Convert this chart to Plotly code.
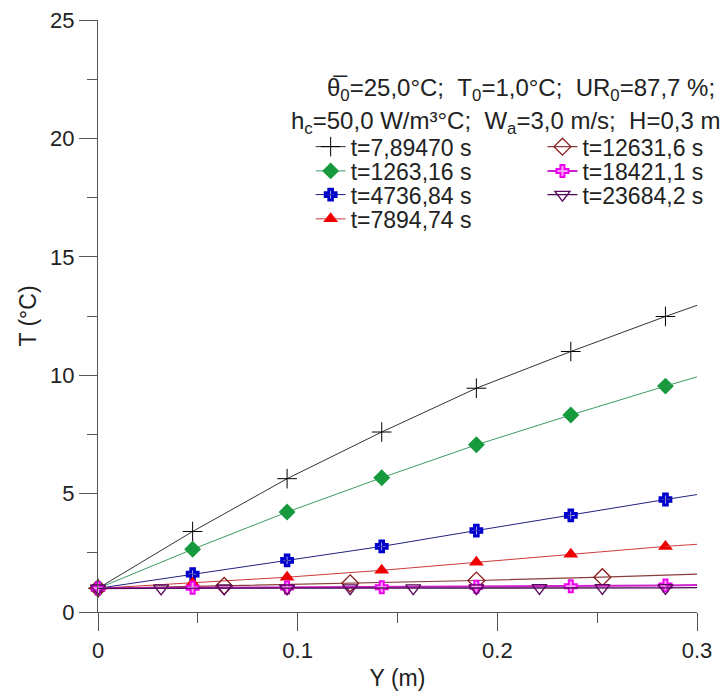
import plotly.graph_objects as go

# ---- data ----
Y_every3 = [0.0, 0.0474, 0.0947, 0.1421, 0.1895, 0.2368, 0.2842]
Y_every4 = [0.0, 0.0632, 0.1263, 0.1895, 0.2526]
Y_every2 = [0.0, 0.0316, 0.0632, 0.0947, 0.1263, 0.1579, 0.1895, 0.2211, 0.2526, 0.2842]
Y_end = 0.3

names = ["t=7,89470 s", "t=1263,16 s", "t=4736,84 s", "t=7894,74 s",
         "t=12631,6 s", "t=18421,1 s", "t=23684,2 s"]

T_t1 = [1.0, 3.40, 5.63, 7.60, 9.45, 11.00, 12.48]
T_t2 = [1.0, 2.65, 4.22, 5.67, 7.06, 8.32, 9.54]
T_t3 = [1.0, 1.60, 2.18, 2.77, 3.44, 4.08, 4.75]
T_t4 = [1.0, 1.22, 1.47, 1.76, 2.10, 2.44, 2.77]
T_t5 = [1.0, 1.10, 1.21, 1.33, 1.47]
T_t6 = [1.0, 1.02, 1.03, 1.05, 1.07, 1.09, 1.12]
T_t7 = [1.0, 1.0, 1.0, 1.0, 1.01, 1.01, 1.01, 1.02, 1.02, 1.02]
T_end = [12.95, 9.93, 4.96, 2.86, 1.60, 1.14, 1.03]

x_ticks = [0, 0.1, 0.2, 0.3]
y_ticks = [0, 5, 10, 15, 20, 25]

# ---- styles ----
FONT = "Arial, 'Liberation Sans', sans-serif"
series = [
    (Y_every3, T_t1, dict(symbol="cross-thin", size=14, color="#000000",
                          line=dict(color="#000000", width=1)), dict(color="#333333", width=1)),
    (Y_every3, T_t2, dict(symbol="diamond", size=13, color="#179a3e",
                          line=dict(color="#179a3e", width=0)), dict(color="#3d9a62", width=1)),
    (Y_every3, T_t3, dict(symbol="cross-open", size=9, color="#0000cc",
                          line=dict(color="#0000cc", width=3)), dict(color="#202080", width=1)),
    (Y_every3, T_t4, dict(symbol="triangle-up", size=13, color="#ee0000",
                          line=dict(color="#ee0000", width=0)), dict(color="#cc3b3b", width=1)),
    (Y_every4, T_t5, dict(symbol="diamond-open", size=13, color="#8b1a1a",
                          line=dict(color="#8b1a1a", width=1.3)), dict(color="#8b3c3c", width=1.2)),
    (Y_every3, T_t6, dict(symbol="cross", size=10, color="#ffa0ff",
                          line=dict(color="#ee00ee", width=2)), dict(color="#cc22cc", width=2)),
    (Y_every2, T_t7, dict(symbol="triangle-down-open", size=13, color="#5a0a5a",
                          line=dict(color="#5a0a5a", width=1.4)), dict(color="#4a0a50", width=1.3)),
]

fig = go.Figure()

# legend positions (two columns)
col_x = [0.355, 0.355, 0.355, 0.355, 0.742, 0.742, 0.742]
row_y = [0.786, 0.745, 0.705, 0.664, 0.786, 0.745, 0.705]

for i, (xs, ts, mk, ln) in enumerate(series):
    lg = "legend" if i == 0 else f"legend{i+1}"
    fig.add_trace(go.Scatter(x=xs, y=ts, mode="lines+markers", name=names[i],
                             marker=mk, line=ln, legend=lg, cliponaxis=False))
    fig.add_trace(go.Scatter(x=[xs[-1], Y_end], y=[ts[-1], T_end[i]], mode="lines",
                             line=ln, showlegend=False, hoverinfo="skip"))

layout_legends = {}
for i in range(7):
    key = "legend" if i == 0 else f"legend{i+1}"
    layout_legends[key] = dict(x=col_x[i], y=row_y[i], xanchor="left", yanchor="middle",
                               bgcolor="rgba(0,0,0,0)", borderwidth=0,
                               font=dict(family=FONT, size=23, color="#222222"),
                               itemsizing="trace")

axis_common = dict(showgrid=False, zeroline=False, showline=True, linecolor="#555555",
                   linewidth=1.3, ticks="outside", ticklen=18, tickwidth=1.3,
                   tickcolor="#555555", tickfont=dict(family=FONT, size=22, color="#222222"),
                   mirror=False, automargin=False)

fig.update_layout(
    width=724, height=695,
    margin=dict(l=98, r=27, t=20, b=83, autoexpand=False),
    paper_bgcolor="white", plot_bgcolor="white",
    font=dict(family=FONT, color="#222222"),
    xaxis=dict(range=[0, 0.3], tickvals=x_ticks, ticktext=[str(v) for v in x_ticks],
               title=dict(text="Y (m)", font=dict(family=FONT, size=23), standoff=8),
               minor=dict(dtick=0.05, tick0=0, ticks="outside", ticklen=10,
                          tickcolor="#555555", tickwidth=1.3),
               **axis_common),
    yaxis=dict(range=[0, 25], tickvals=y_ticks,
               title=dict(text="T (°C)", font=dict(family=FONT, size=23), standoff=6),
               minor=dict(dtick=2.5, tick0=0, ticks="outside", ticklen=10,
                          tickcolor="#555555", tickwidth=1.3),
               **axis_common),
    showlegend=True,
    **layout_legends,
)

NB = "\u00a0"
line1 = (f"θ\u0305<sub>0</sub>=25,0°C;{NB}{NB}T<sub>0</sub>=1,0°C;{NB}{NB}"
         f"UR<sub>0</sub>=87,7{NB}%;")
line2 = (f"h<sub>c</sub>=50,0{NB}W/m³°C;{NB}{NB}W<sub>a</sub>=3,0{NB}m/s;{NB}{NB}H=0,3{NB}m")
fig.add_annotation(text=line1, xref="paper", yref="paper", x=1.033, y=0.882,
                   xanchor="right", yanchor="middle", showarrow=False,
                   font=dict(family=FONT, size=24, color="#222222"))
fig.add_annotation(text=line2, xref="paper", yref="paper", x=1.042, y=0.827,
                   xanchor="right", yanchor="middle", showarrow=False,
                   font=dict(family=FONT, size=24, color="#222222"))

fig.write_html("out.html")
